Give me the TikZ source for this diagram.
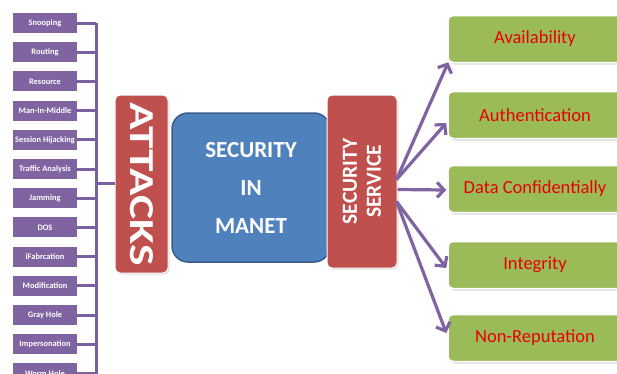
\documentclass[tikz,border=0pt]{standalone}
\usepackage{fontspec}
\setmainfont{Carlito}
\usetikzlibrary{arrows.meta,shadows,calc}
\definecolor{attackpurple}{HTML}{8064A2}
\definecolor{linepurple}{HTML}{7B61A0}
\definecolor{boxred}{HTML}{C0504D}
\definecolor{boxblue}{HTML}{4F81BD}
\definecolor{blueedge}{HTML}{385D8A}
\definecolor{boxgreen}{HTML}{9BBB59}
\definecolor{textred}{HTML}{E80000}
\tikzset{
  attackbox/.style={fill=attackpurple, text=white, minimum width=64, minimum height=20,
    inner sep=0pt, font=\fontsize{8.4}{9}\selectfont\bfseries},
  conn/.style={draw=linepurple, line width=3pt},
  redbox/.style={fill=boxred, draw=white, line width=1pt, rounded corners=5pt,
    drop shadow={opacity=0.25, shadow xshift=1.5pt, shadow yshift=-1.5pt}},
  whitetext/.style={text=white, font=\bfseries},
  greenbox/.style={fill=boxgreen, draw=white, line width=1.5pt, rounded corners=5pt,
    minimum width=174, minimum height=47, text=textred,
    font=\fontsize{18.5}{20}\selectfont,
    drop shadow={opacity=0.3, shadow xshift=1.5pt, shadow yshift=-2pt}},
  arr/.style={draw=attackpurple, line width=3.2pt, -{Straight Barb[length=7pt,width=15pt]}}
}
\begin{document}
\begin{tikzpicture}[x=1pt,y=-1pt]
\useasboundingbox (0,0) rectangle (617,373);
\fill[white] (0,0) rectangle (617,373);
\begin{scope}
\clip (0,0) rectangle (617,373);
% attack list
\foreach \t [count=\i] in {Snooping,Routing,Resource,Man-In-Middle,Session Hijacking,Traffic Analysis,Jamming,DOS,iFabrcation,Modification,Gray Hole,Impersonation,Worm Hole}{
  \node[attackbox] (a\i) at (45,{23+29.2*(\i-1)}) {\t};
}
\coordinate (bus) at (96,0);
\foreach \i in {1,...,13}{
  \draw[conn] (a\i.east) -- (a\i.east -| bus);
}
\draw[conn] (a1.east -| bus) -- (96,380);
% central boxes
\node[redbox, minimum width=53, minimum height=178] (attacks) at (141.5,184) {};
\node[whitetext, rotate=-90, font=\fontsize{35}{38}\selectfont\bfseries] (attackslabel) at (attacks.center) {\scalebox{1.3}[1]{ATTACKS}};
\coordinate (jn) at (96,183);
\draw[conn] (jn) -- (jn -| attacks.west);
\node[fill=boxblue, draw=blueedge, line width=1.5pt, rounded corners=16pt,
  minimum width=158, minimum height=149, text=white, align=center,
  font=\fontsize{23}{38}\selectfont\bfseries] (manet) at (251,187.5) {SECURITY\\IN\\MANET};
\node[redbox, minimum width=70, minimum height=173] (service) at (362,181.5) {};
\node[whitetext, rotate=90, align=center, font=\fontsize{21.5}{24}\selectfont\bfseries] (servicelabel) at (service.center) {SECURITY\\SERVICE};
% services
\node[greenbox] (s1) at (535,39) {Availability};
\node[greenbox] (s2) at (535,115) {Authentication};
\node[greenbox] (s3) at (535,189) {Data Confidentially};
\node[greenbox] (s4) at (535,265) {Integrity};
\node[greenbox] (s5) at (535,338) {Non-Reputation};
\coordinate (o1) at ($(service.east)+(-1,-2)$);
\coordinate (o3) at ($(service.east)+(0,8)$);
\coordinate (o4) at ($(service.east)+(-1,20)$);
\draw[arr] (o1) -- ($(s1.south west)+(1,-1)$);
\draw[arr] (o1) -- ($(s2.west)+(-1,8)$);
\draw[arr] (o3) -- ($(s3.west)+(-1,1)$);
\draw[arr] (o4) -- ($(s4.west)+(-1,3)$);
\draw[arr] (o4) -- ($(s5.west)+(-1,-5)$);
\end{scope}
\end{tikzpicture}
\end{document}
